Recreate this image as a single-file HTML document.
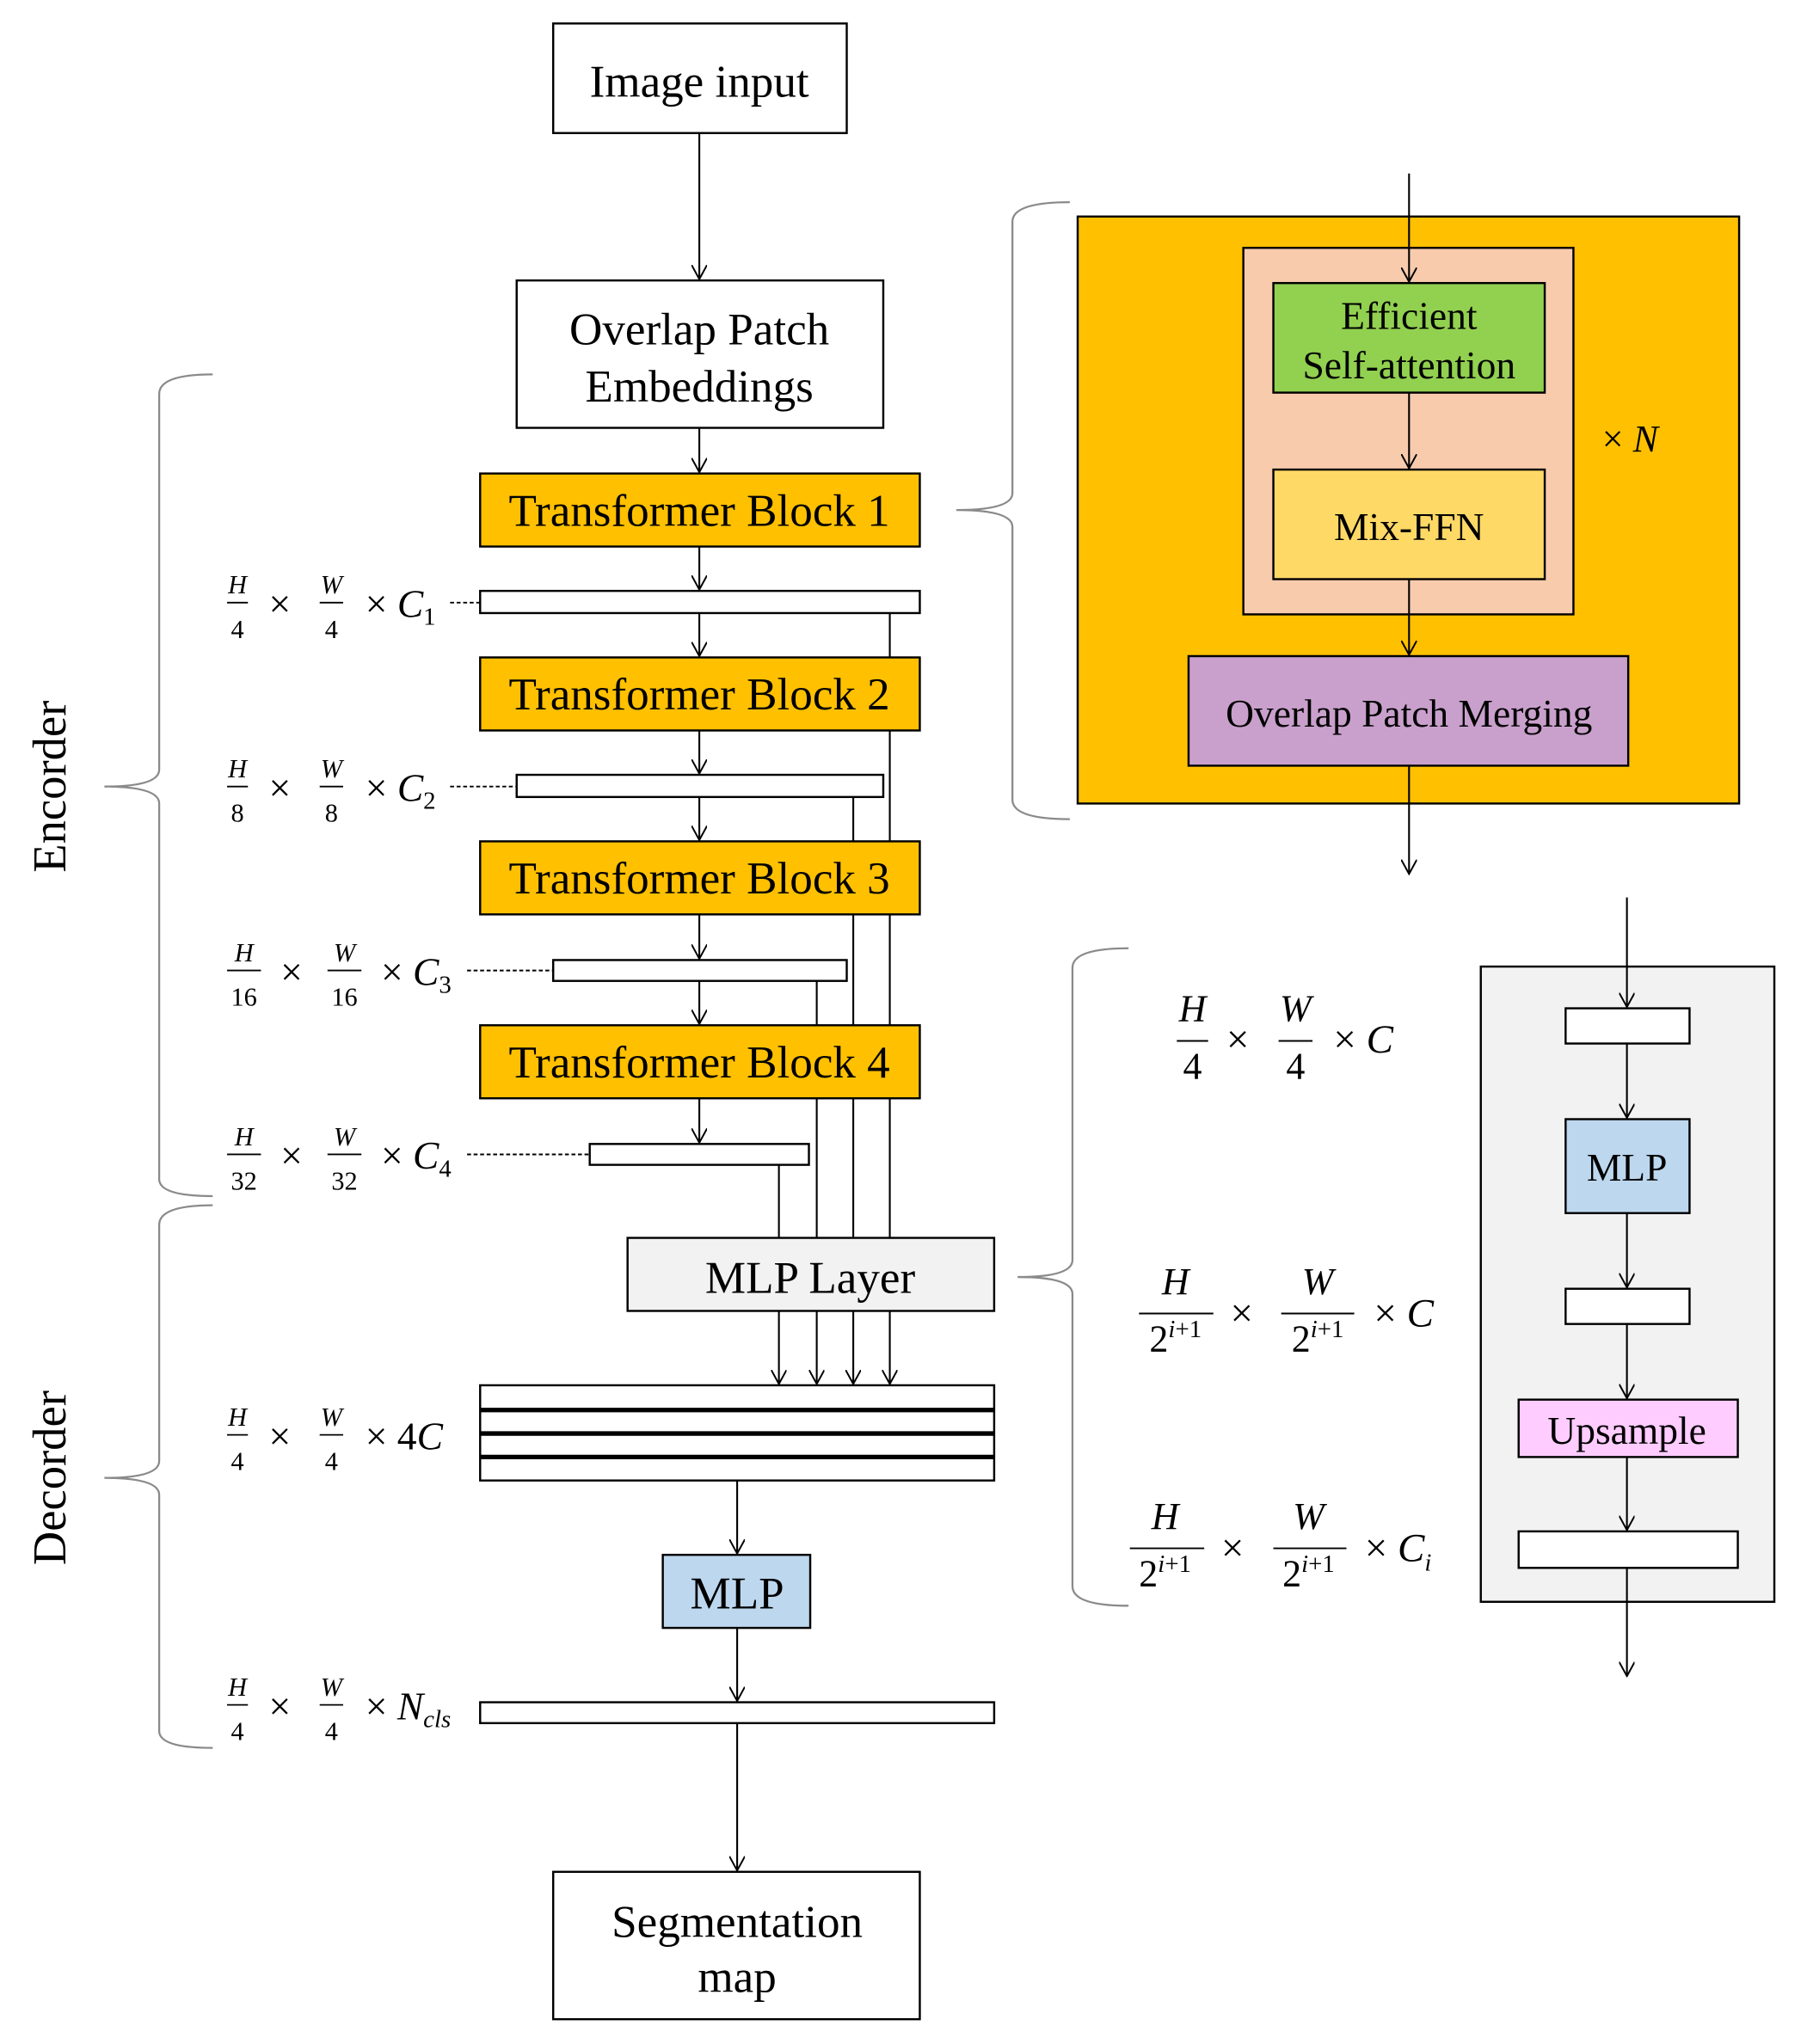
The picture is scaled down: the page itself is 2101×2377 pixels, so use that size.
<!DOCTYPE html>
<html><head><meta charset="utf-8"><style>
html,body{margin:0;padding:0;background:#fff;}
svg{display:block;}
text{font-family:"Liberation Serif",serif;fill:#000;}
.m{font-style:italic;}
</style></head><body>
<svg width="2101" height="2377" viewBox="0 0 1385 1567" xmlns="http://www.w3.org/2000/svg">
<defs>
<marker id="a" viewBox="0 0 12 12" refX="11" refY="6" markerWidth="12" markerHeight="12" markerUnits="userSpaceOnUse" orient="auto">
<path d="M0,0 L11,6 L0,12" fill="none" stroke="#000" stroke-width="1.3"/></marker>
</defs>
<!-- connectors first (behind boxes) -->
<g stroke="#000" stroke-width="1.4" fill="none">
<line x1="682" y1="470" x2="682" y2="949"/>
<line x1="654" y1="611" x2="654" y2="949"/>
<line x1="626" y1="752" x2="626" y2="949"/>
<line x1="597" y1="893" x2="597" y2="949"/>
</g>
<g stroke="#000" stroke-width="1.6">
<rect x="424" y="18" width="225" height="84" fill="#fff"/>
<rect x="396" y="215" width="281" height="113" fill="#fff"/>
<rect x="368" y="363" width="337" height="56" fill="#FFC000"/>
<rect x="368" y="453" width="337" height="17" fill="#fff"/>
<rect x="368" y="504" width="337" height="56" fill="#FFC000"/>
<rect x="396" y="594" width="281" height="17" fill="#fff"/>
<rect x="368" y="645" width="337" height="56" fill="#FFC000"/>
<rect x="424" y="736" width="225" height="16" fill="#fff"/>
<rect x="368" y="786" width="337" height="56" fill="#FFC000"/>
<rect x="452" y="877" width="168" height="16" fill="#fff"/>
<rect x="481" y="949" width="281" height="56" fill="#F2F2F2"/>
<rect x="368" y="1062" width="394" height="73" fill="#fff"/>
<rect x="508" y="1192" width="113" height="56" fill="#BDD7EE"/>
<rect x="368" y="1305" width="394" height="16" fill="#fff"/>
<rect x="424" y="1435" width="281" height="113" fill="#fff"/>
</g>
<g stroke="#000" stroke-width="3.5">
<line x1="368" y1="1081" x2="762" y2="1081"/><line x1="368" y1="1099" x2="762" y2="1099"/><line x1="368" y1="1117" x2="762" y2="1117"/>
</g>
<g stroke="#000" stroke-width="1.4" fill="none">
<line x1="536" y1="102" x2="536" y2="214" marker-end="url(#a)"/>
<line x1="536" y1="328" x2="536" y2="362" marker-end="url(#a)"/>
<line x1="536" y1="419" x2="536" y2="452" marker-end="url(#a)"/>
<line x1="536" y1="470" x2="536" y2="503" marker-end="url(#a)"/>
<line x1="536" y1="560" x2="536" y2="593" marker-end="url(#a)"/>
<line x1="536" y1="611" x2="536" y2="644" marker-end="url(#a)"/>
<line x1="536" y1="701" x2="536" y2="735" marker-end="url(#a)"/>
<line x1="536" y1="752" x2="536" y2="785" marker-end="url(#a)"/>
<line x1="536" y1="842" x2="536" y2="876" marker-end="url(#a)"/>
<line x1="597" y1="1005" x2="597" y2="1061" marker-end="url(#a)"/>
<line x1="626" y1="1005" x2="626" y2="1061" marker-end="url(#a)"/>
<line x1="654" y1="1005" x2="654" y2="1061" marker-end="url(#a)"/>
<line x1="682" y1="1005" x2="682" y2="1061" marker-end="url(#a)"/>
<line x1="565" y1="1135" x2="565" y2="1191" marker-end="url(#a)"/>
<line x1="565" y1="1248" x2="565" y2="1304" marker-end="url(#a)"/>
<line x1="565" y1="1321" x2="565" y2="1434" marker-end="url(#a)"/>
</g>
<g stroke="#000" stroke-width="1.3" stroke-dasharray="3,2">
<line x1="345" y1="462" x2="368" y2="462"/>
<line x1="345" y1="603" x2="396" y2="603"/>
<line x1="358" y1="744" x2="424" y2="744"/>
<line x1="358" y1="885" x2="452" y2="885"/>
</g>
<!-- braces -->
<g stroke="#8a8a8a" stroke-width="1.5" fill="none">
<path d="M163,287 Q122,287 122,302 L122,590 Q122,603 80,603 Q122,603 122,616 L122,904 Q122,917 163,917"/>
<path d="M163,924 Q122,924 122,939 L122,1120 Q122,1133 80,1133 Q122,1133 122,1146 L122,1327 Q122,1340 163,1340"/>
<path d="M820,155 Q776,155 776,170 L776,378 Q776,391 733,391 Q776,391 776,404 L776,613 Q776,628 820,628"/>
<path d="M865,727 Q822,727 822,742 L822,966 Q822,979 780,979 Q822,979 822,992 L822,1216 Q822,1231 865,1231"/>
</g>
<!-- text left -->
<g font-size="35" text-anchor="middle">
<text x="536" y="74">Image input</text>
<text x="536" y="264">Overlap Patch</text>
<text x="536" y="308">Embeddings</text>
<text x="536" y="403">Transformer Block 1</text>
<text x="536" y="544">Transformer Block 2</text>
<text x="536" y="685">Transformer Block 3</text>
<text x="536" y="826">Transformer Block 4</text>
<text x="621" y="991">MLP Layer</text>
<text x="565" y="1233">MLP</text>
<text x="565" y="1485">Segmentation</text>
<text x="565" y="1527">map</text>
</g>
<text font-size="36" text-anchor="middle" transform="translate(50,603) rotate(-90)">Encorder</text>
<text font-size="36" text-anchor="middle" transform="translate(50,1133) rotate(-90)">Decorder</text>
<!-- left fractions -->
<g font-size="20" text-anchor="middle">
<g class="m"><text x="182" y="455">H</text><text x="254" y="455">W</text></g>
<text x="182" y="489">4</text><text x="254" y="489">4</text>
<g class="m"><text x="182" y="596">H</text><text x="254" y="596">W</text></g>
<text x="182" y="630">8</text><text x="254" y="630">8</text>
<g class="m"><text x="187" y="737">H</text><text x="264" y="737">W</text></g>
<text x="187" y="771">16</text><text x="264" y="771">16</text>
<g class="m"><text x="187" y="878">H</text><text x="264" y="878">W</text></g>
<text x="187" y="912">32</text><text x="264" y="912">32</text>
<g class="m"><text x="182" y="1093">H</text><text x="254" y="1093">W</text></g>
<text x="182" y="1127">4</text><text x="254" y="1127">4</text>
<g class="m"><text x="182" y="1300">H</text><text x="254" y="1300">W</text></g>
<text x="182" y="1334">4</text><text x="254" y="1334">4</text>
</g>
<g stroke="#000" stroke-width="1.2">
<line x1="174" y1="462" x2="190" y2="462"/><line x1="245" y1="462" x2="263" y2="462"/>
<line x1="174" y1="603" x2="190" y2="603"/><line x1="245" y1="603" x2="263" y2="603"/>
<line x1="174" y1="744" x2="200" y2="744"/><line x1="251" y1="744" x2="277" y2="744"/>
<line x1="174" y1="885" x2="200" y2="885"/><line x1="251" y1="885" x2="277" y2="885"/>
<line x1="174" y1="1100" x2="190" y2="1100"/><line x1="245" y1="1100" x2="263" y2="1100"/>
<line x1="174" y1="1307" x2="190" y2="1307"/><line x1="245" y1="1307" x2="263" y2="1307"/>
</g>
<g font-size="30">
<text x="206" y="473">×</text><text x="280" y="473">× <tspan class="m">C</tspan><tspan font-size="19" dy="6">1</tspan></text>
<text x="206" y="614">×</text><text x="280" y="614">× <tspan class="m">C</tspan><tspan font-size="19" dy="6">2</tspan></text>
<text x="215" y="755">×</text><text x="292" y="755">× <tspan class="m">C</tspan><tspan font-size="19" dy="6">3</tspan></text>
<text x="215" y="896">×</text><text x="292" y="896">× <tspan class="m">C</tspan><tspan font-size="19" dy="6">4</tspan></text>
<text x="206" y="1111">×</text><text x="280" y="1111">× 4<tspan class="m">C</tspan></text>
<text x="206" y="1318">×</text><text x="280" y="1318">× <tspan class="m">N</tspan><tspan class="m" font-size="19" dy="6">cls</tspan></text>
</g>
<!-- right top -->
<g stroke="#000" stroke-width="1.6">
<rect x="826" y="166" width="507" height="450" fill="#FFC000"/>
<rect x="953" y="190" width="253" height="281" fill="#F8CBAD"/>
<rect x="976" y="217" width="208" height="84" fill="#92D050"/>
<rect x="976" y="360" width="208" height="84" fill="#FFD966"/>
<rect x="911" y="503" width="337" height="84" fill="#C9A0CC"/>
</g>
<g stroke="#000" stroke-width="1.4">
<line x1="1080" y1="133" x2="1080" y2="216" marker-end="url(#a)"/>
<line x1="1080" y1="301" x2="1080" y2="359" marker-end="url(#a)"/>
<line x1="1080" y1="444" x2="1080" y2="502" marker-end="url(#a)"/>
<line x1="1080" y1="587" x2="1080" y2="670" marker-end="url(#a)"/>
</g>
<g font-size="30" text-anchor="middle">
<text x="1080" y="252">Efficient</text>
<text x="1080" y="290">Self-attention</text>
<text x="1080" y="414">Mix-FFN</text>
<text x="1080" y="557">Overlap Patch Merging</text>
</g>
<text x="1228" y="346" font-size="29">× <tspan class="m">N</tspan></text>
<!-- right bottom -->
<g stroke="#000" stroke-width="1.6">
<rect x="1135" y="741" width="225" height="487" fill="#F2F2F2"/>
<rect x="1200" y="773" width="95" height="27" fill="#fff"/>
<rect x="1200" y="858" width="95" height="72" fill="#BDD7EE"/>
<rect x="1200" y="988" width="95" height="27" fill="#fff"/>
<rect x="1164" y="1073" width="168" height="44" fill="#FFCCFF"/>
<rect x="1164" y="1174" width="168" height="28" fill="#fff"/>
</g>
<g stroke="#000" stroke-width="1.4">
<line x1="1247" y1="688" x2="1247" y2="772" marker-end="url(#a)"/>
<line x1="1247" y1="800" x2="1247" y2="857" marker-end="url(#a)"/>
<line x1="1247" y1="930" x2="1247" y2="987" marker-end="url(#a)"/>
<line x1="1247" y1="1015" x2="1247" y2="1072" marker-end="url(#a)"/>
<line x1="1247" y1="1117" x2="1247" y2="1173" marker-end="url(#a)"/>
<line x1="1247" y1="1202" x2="1247" y2="1285" marker-end="url(#a)"/>
</g>
<g font-size="30" text-anchor="middle">
<text x="1247" y="905">MLP</text>
<text x="1247" y="1107">Upsample</text>
</g>
<!-- right fractions -->
<g font-size="29" text-anchor="middle">
<g class="m"><text x="914" y="783">H</text><text x="993" y="783">W</text></g>
<text x="914" y="827">4</text><text x="993" y="827">4</text>
<g class="m"><text x="901" y="992">H</text><text x="1010" y="992">W</text></g>
<text x="901" y="1036">2<tspan font-size="19" dy="-11" class="m">i</tspan><tspan font-size="19">+1</tspan></text>
<text x="1010" y="1036">2<tspan font-size="19" dy="-11" class="m">i</tspan><tspan font-size="19">+1</tspan></text>
<g class="m"><text x="893" y="1172">H</text><text x="1003" y="1172">W</text></g>
<text x="893" y="1216">2<tspan font-size="19" dy="-11" class="m">i</tspan><tspan font-size="19">+1</tspan></text>
<text x="1003" y="1216">2<tspan font-size="19" dy="-11" class="m">i</tspan><tspan font-size="19">+1</tspan></text>
</g>
<g stroke="#000" stroke-width="1.3">
<line x1="902" y1="798" x2="926" y2="798"/><line x1="980" y1="798" x2="1006" y2="798"/>
<line x1="873" y1="1007" x2="930" y2="1007"/><line x1="982" y1="1007" x2="1038" y2="1007"/>
<line x1="866" y1="1187" x2="923" y2="1187"/><line x1="976" y1="1187" x2="1032" y2="1187"/>
</g>
<g font-size="31">
<text x="940" y="807">×</text><text x="1022" y="807">× <tspan class="m">C</tspan></text>
<text x="943" y="1017">×</text><text x="1053" y="1017">× <tspan class="m">C</tspan></text>
<text x="936" y="1197">×</text><text x="1046" y="1197">× <tspan class="m">C</tspan><tspan class="m" font-size="19" dy="7">i</tspan></text>
</g>
</svg>
</body></html>
